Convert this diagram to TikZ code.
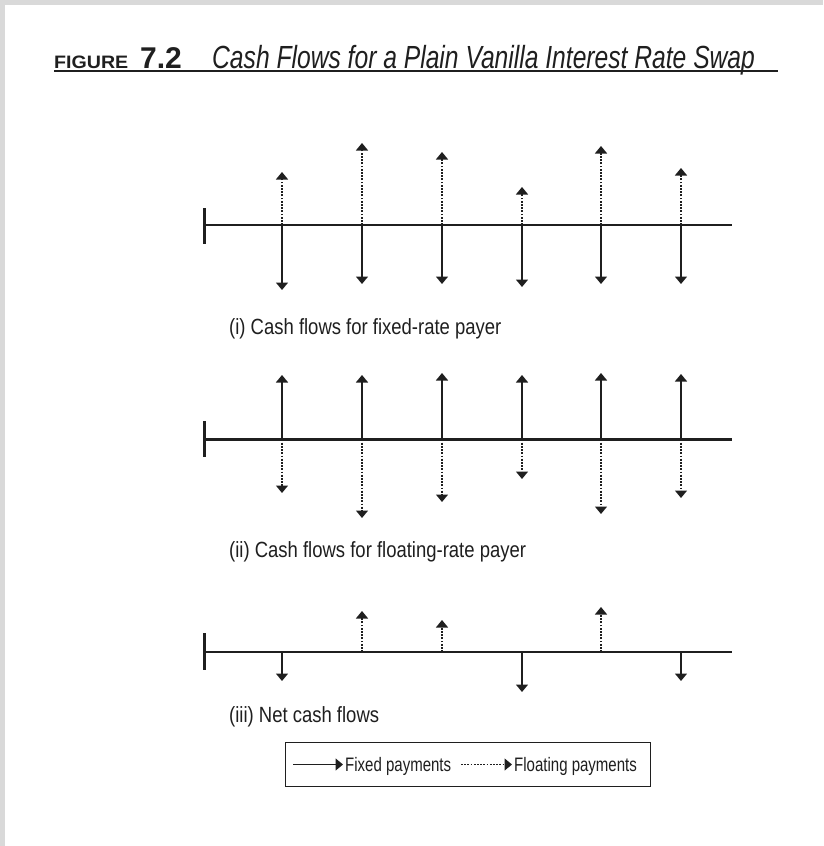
\documentclass[tikz,border=0pt]{standalone}
\usepackage{fontspec}
\usetikzlibrary{arrows.meta}
\newfontfamily\labfont[FakeStretch=0.84]{Liberation Sans}
\newfontfamily\legfont[FakeStretch=0.77]{Liberation Sans}
\newfontfamily\ttlfont[FakeStretch=0.77]{Liberation Sans}
\newfontfamily\figfont[FakeStretch=1.09]{Liberation Sans}
\newfontfamily\numfont[FakeStretch=1.0]{Liberation Sans}
\definecolor{framegray}{gray}{0.85}
\definecolor{ink}{gray}{0.12}
\tikzset{
  tipA/.tip={Triangle[width=12pt,length=7.5pt]},
  fixedarrow/.style={draw=ink,line width=1.4pt,-{tipA}},
  floatarrow/.style={draw=ink,line width=1.3pt,dash pattern=on 1.8pt off 1.4pt,-{tipA}},
  axisline/.style={draw=ink,line width=2.6pt},
  ticksty/.style={draw=ink,line width=3pt},
  lab/.style={anchor=base west,inner sep=0pt,text=ink,font=\fontsize{22}{24}\labfont},
  legtext/.style={anchor=base west,inner sep=0pt,text=ink,font=\fontsize{19.5}{21}\legfont},
}
\begin{document}
\begin{tikzpicture}[x=1pt,y=-1pt]
\useasboundingbox (0,0) rectangle (823,846);
\fill[white] (0,0) rectangle (823,846);
\fill[framegray] (0,0) rectangle (823,4.5);
\fill[framegray] (0,0) rectangle (4.5,846);
% title
\node[anchor=base west,inner sep=0pt,text=ink,font=\fontsize{18}{20}\figfont\bfseries] (tfig) at (54,68) {FIGURE};
\node[anchor=base west,inner sep=0pt,text=ink,font=\fontsize{30}{32}\numfont\bfseries] (tnum) at (140,68) {7.2};
\node[anchor=base west,inner sep=0pt,text=ink,font=\fontsize{32}{34}\ttlfont\itshape] (ttxt) at (212,68) {Cash Flows for a Plain Vanilla Interest Rate Swap};
\coordinate (ul1) at (54,71);
\coordinate (ul2) at (778,71);
\draw[draw=ink,line width=1.5pt] (ul1) -- (ul2);
% panel (i)
\coordinate (Ls1) at (204,225); \coordinate (Le1) at (732,225);
\coordinate (Tt1) at (204,208); \coordinate (Tb1) at (204,244);
\draw[axisline] (Ls1) -- (Le1);
\draw[ticksty] (Tt1) -- (Tb1);
\foreach \x/\u/\d [count=\i] in {282/172/290,362/143/284,442/152/284,522/187/287,601/146/284,681/168/284}{
  \coordinate (Ai\i) at (\x,225);
  \coordinate (Ui\i) at (\x,\u);
  \coordinate (Di\i) at (\x,\d);
  \draw[floatarrow] (Ai\i) -- (Ui\i);
  \draw[fixedarrow] (Ai\i) -- (Di\i);
}
\node[lab] (lab1) at (229,334) {(i) Cash flows for fixed-rate payer};
% panel (ii)
\coordinate (Ls2) at (204,439.5); \coordinate (Le2) at (732,439.5);
\coordinate (Tt2) at (204,421); \coordinate (Tb2) at (204,457);
\draw[axisline] (Ls2) -- (Le2);
\draw[ticksty] (Tt2) -- (Tb2);
\foreach \x/\u/\d [count=\i] in {282/375/493,362/375/518,442/373/502,522/375/479,601/373/514,681/374/498}{
  \coordinate (Aii\i) at (\x,439.5);
  \coordinate (Uii\i) at (\x,\u);
  \coordinate (Dii\i) at (\x,\d);
  \draw[fixedarrow] (Aii\i) -- (Uii\i);
  \draw[floatarrow] (Aii\i) -- (Dii\i);
}
\node[lab] (lab2) at (229,557) {(ii) Cash flows for floating-rate payer};
% panel (iii)
\coordinate (Ls3) at (204,652); \coordinate (Le3) at (732,652);
\coordinate (Tt3) at (204,633); \coordinate (Tb3) at (204,670);
\draw[axisline] (Ls3) -- (Le3);
\draw[ticksty] (Tt3) -- (Tb3);
\foreach \x/\y [count=\i] in {282/681,522/692,681/681}{
  \coordinate (Aiii\i) at (\x,652);
  \coordinate (Diii\i) at (\x,\y);
  \draw[fixedarrow] (Aiii\i) -- (Diii\i);
}
\foreach \x/\y [count=\i] in {362/611,442/620,601/607}{
  \coordinate (Biii\i) at (\x,652);
  \coordinate (Uiii\i) at (\x,\y);
  \draw[floatarrow] (Biii\i) -- (Uiii\i);
}
\node[lab] (lab3) at (229,722) {(iii) Net cash flows};
% legend
\node[draw=ink,line width=1pt,minimum width=365pt,minimum height=44pt,inner sep=0pt,anchor=north west] (leg) at (285,742) {};
\coordinate (lf1) at (293,764.5); \coordinate (lf2) at (343,764.5);
\draw[fixedarrow] (lf1) -- (lf2);
\node[legtext] (legfix) at (345,771) {Fixed payments};
\coordinate (lv1) at (461,764.5); \coordinate (lv2) at (512,764.5);
\draw[floatarrow] (lv1) -- (lv2);
\node[legtext] (legflo) at (514,771) {Floating payments};
\end{tikzpicture}
\end{document}
